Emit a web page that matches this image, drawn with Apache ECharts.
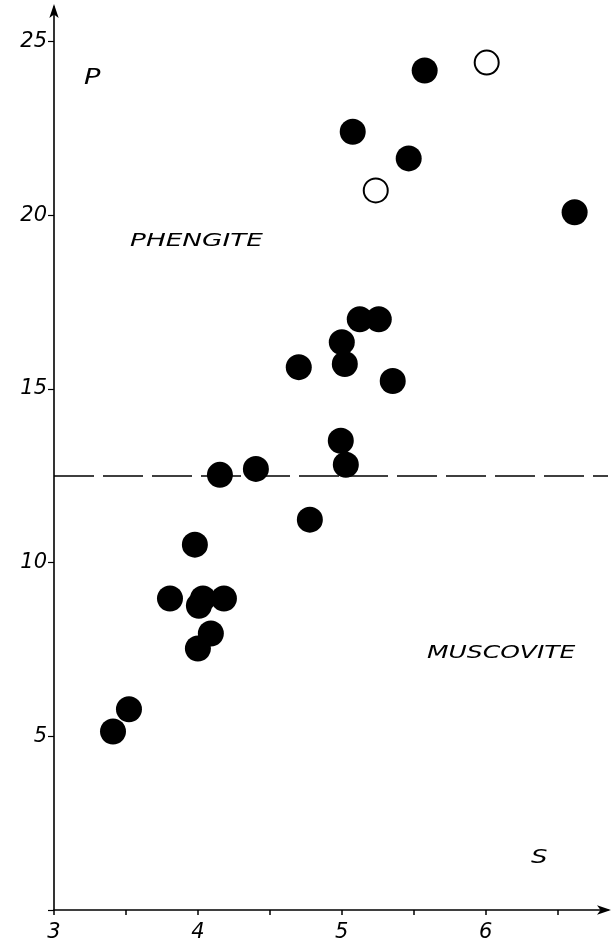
<!DOCTYPE html>
<html>
<head>
<meta charset="utf-8">
<script src="https://cdn.jsdelivr.net/npm/echarts@6/dist/echarts.min.js"></script>
<style>
html,body{margin:0;padding:0;background:#fff;}
#main{width:611px;height:943px;}
</style>
</head>
<body>
<div id="main"></div>
<script>
// S values (x) and P values (y) of filled circles
const filledS = [5.576, 5.076, 5.465, 6.618, 5.125, 5.257, 5.000, 5.021, 4.701, 5.354, 4.993, 5.028, 4.153, 4.403, 4.778, 3.979, 3.806, 4.035, 4.181, 4.007, 4.090, 4.000, 3.521, 3.410];
const filledP = [24.17, 22.41, 21.64, 20.09, 17.01, 17.01, 16.35, 15.72, 15.63, 15.23, 13.51, 12.82, 12.53, 12.70, 11.24, 10.52, 8.97, 8.97, 8.97, 8.76, 7.96, 7.53, 5.78, 5.14];
// open circles
const openS = [6.007, 5.236];
const openP = [24.40, 20.72];
// boundary between phengite and muscovite
const boundaryP = 12.5;
const xTickLabels = [3, 4, 5, 6];
const yTickLabels = [5, 10, 15, 20, 25];

const filledData = filledS.map((s, i) => [s, filledP[i]]);
const openData = openS.map((s, i) => [s, openP[i]]);

const FONT = '"DejaVu Sans", sans-serif';
const chart = echarts.init(document.getElementById('main'));
chart.setOption({
  animation: false,
  backgroundColor: '#fff',
  grid: { left: 54, right: 3, top: 7, bottom: 31 },
  xAxis: {
    type: 'value', min: 3, max: 6.85, interval: 0.5,
    axisLine: { lineStyle: { color: '#000', width: 1.6 }, symbol: ['none', 'arrow'], symbolSize: [7, 14], symbolOffset: [0, 3] },
    axisTick: { show: true, inside: false, length: 5, lineStyle: { color: '#000', width: 1.5 } },
    splitLine: { show: false },
    axisLabel: {
      showMaxLabel: false, margin: 12, color: '#000', fontSize: 21, fontStyle: 'italic', fontFamily: FONT,
      formatter: v => xTickLabels.includes(Math.round(v * 100) / 100) ? String(v) : ''
    }
  },
  yAxis: {
    type: 'value', min: 0, max: 26, interval: 5,
    axisLine: { lineStyle: { color: '#000', width: 1.6 }, symbol: ['none', 'arrow'], symbolSize: [7, 14], symbolOffset: [0, 3] },
    axisTick: { show: true, inside: false, length: 6, lineStyle: { color: '#000', width: 1.2 } },
    splitLine: { show: false },
    axisLabel: {
      showMaxLabel: false, margin: 7, color: '#000', fontSize: 21, fontStyle: 'italic', fontFamily: FONT,
      padding: [0, 0, 10, 0],
      formatter: v => yTickLabels.includes(v) ? String(v) : ''
    }
  },
  series: [
    {
      type: 'scatter', data: filledData, symbol: 'circle', symbolSize: 26,
      itemStyle: { color: '#000', borderWidth: 0, opacity: 1 },
      markLine: {
        silent: true, symbol: ['none', 'none'], label: { show: false },
        lineStyle: { color: '#000', width: 1.6, type: [40, 9] },
        data: [{ yAxis: boundaryP }]
      }
    },
    {
      type: 'scatter', data: openData, symbol: 'circle', symbolSize: 24,
      itemStyle: { color: '#fff', borderColor: '#000', borderWidth: 2, opacity: 1 }
    }
  ],
  graphic: [
    { type: 'text', x: 84, y: 79, scaleX: 1.3, style: { text: 'P', font: 'italic 21px ' + FONT, fill: '#000', textAlign: 'left', textVerticalAlign: 'middle' } },
    { type: 'text', x: 130, y: 242, scaleX: 1.55, style: { text: 'PHENGITE', font: 'italic 17px ' + FONT, fill: '#000', textAlign: 'left', textVerticalAlign: 'middle' } },
    { type: 'text', x: 427, y: 654, scaleX: 1.47, style: { text: 'MUSCOVITE', font: 'italic 17px ' + FONT, fill: '#000', textAlign: 'left', textVerticalAlign: 'middle' } },
    { type: 'text', x: 531, y: 858, scaleX: 1.3, style: { text: 'S', font: 'italic 20px ' + FONT, fill: '#000', textAlign: 'left', textVerticalAlign: 'middle' } }
  ]
});
</script>
</body>
</html>
